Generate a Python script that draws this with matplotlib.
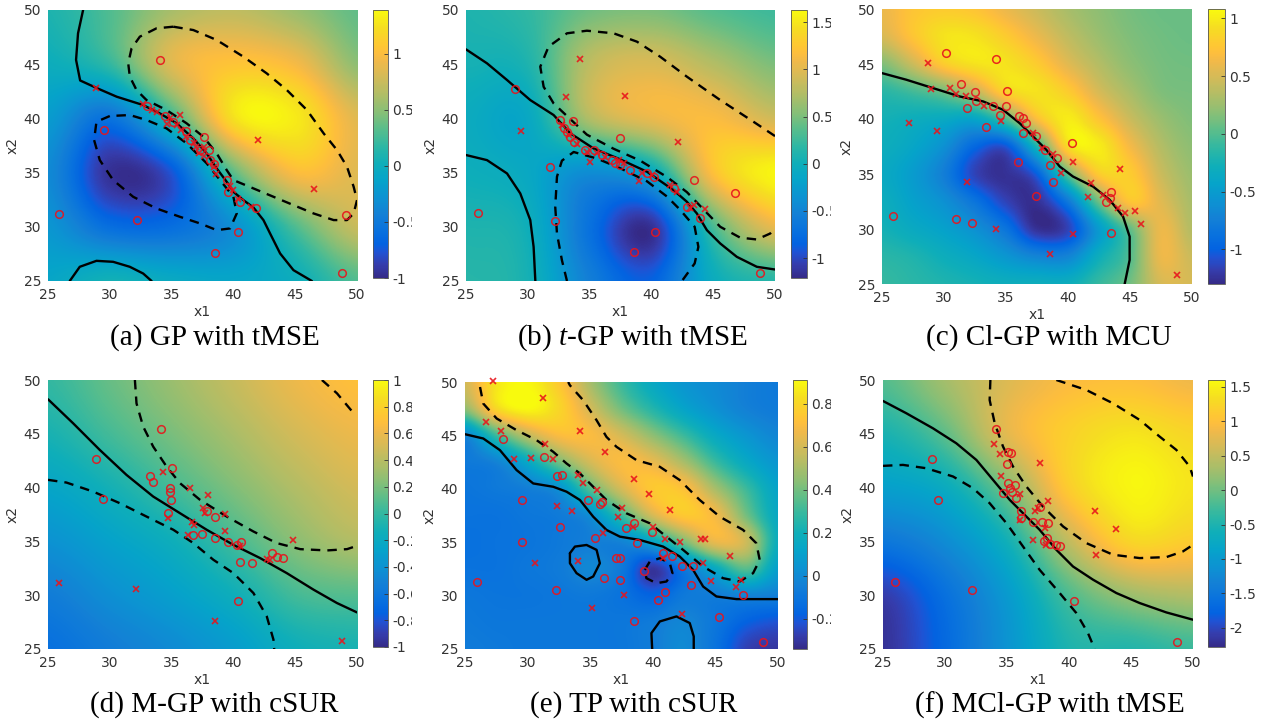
import numpy as np
import matplotlib
matplotlib.use("Agg")
import matplotlib.pyplot as plt
from matplotlib.colors import LinearSegmentedColormap
from matplotlib.transforms import Bbox, IdentityTransform, TransformedBbox

plt.rcParams["font.family"] = "DejaVu Sans"
plt.rcParams["mathtext.fontset"] = "custom"
plt.rcParams["mathtext.rm"] = "Liberation Serif"
plt.rcParams["mathtext.it"] = "Liberation Serif:italic"

W, H = 1265, 725
RED = "#e8141c"
TXT = "#333333"

# MATLAB parula, sampled from the 64-entry table
PARULA = [
    (0.2081, 0.1663, 0.5292), (0.2081, 0.2386, 0.6771), (0.1253, 0.3242, 0.8303),
    (0.0117, 0.3875, 0.8820), (0.0329, 0.4430, 0.8720), (0.0779, 0.5040, 0.8384),
    (0.0488, 0.5772, 0.8228), (0.0231, 0.6418, 0.7913), (0.0590, 0.6838, 0.7254),
    (0.1801, 0.7177, 0.6424), (0.3482, 0.7424, 0.5473), (0.5300, 0.7491, 0.4661),
    (0.6834, 0.7435, 0.4044), (0.8185, 0.7327, 0.3498), (0.9450, 0.7261, 0.2886),
    (0.9938, 0.7455, 0.2403), (0.9955, 0.7861, 0.1967), (0.9626, 0.8705, 0.1309),
    (0.9763, 0.9831, 0.0538),
]
PARULA_POS = [0, 3, 6, 8, 11, 15, 19, 23, 27, 31, 35, 39, 43, 47, 51, 53, 55, 59, 63]
parula = LinearSegmentedColormap.from_list(
    "parula", [(p / 63, c) for p, c in zip(PARULA_POS, PARULA)])

# ---------------- (a) GP with tMSE ----------------
# rows: x2 = 50 ... 25, columns: x1 = 25 ... 50
field_a = [
    [0.10, 0.30, 0.60, 0.70, 0.55, 0.35],
    [0.00, 0.20, 0.85, 1.05, 0.95, 0.50],
    [-0.20, -0.55, 0.20, 1.25, 1.30, 0.85],
    [-0.35, -0.95, -0.75, 0.35, 1.00, 0.85],
    [-0.25, -0.60, -0.60, -0.30, 0.30, 0.75],
    [-0.10, 0.05, -0.05, -0.10, 0.00, 0.30],
]
clim_a = (-1.0, 1.39)
cticks_a = [-1, -0.5, 0, 0.5, 1]
solid_a = [
    [(27.84, 50.0), (27.43, 47.85), (27.27, 45.4), (27.6, 43.5), (28.94, 42.8),
     (30.56, 42.0), (32.70, 41.23), (34.05, 40.46), (35.41, 39.54), (36.76, 38.15),
     (37.84, 36.77), (38.65, 35.38), (39.46, 34.15), (40.0, 33.23), (40.81, 32.46),
     (41.62, 31.78), (42.43, 30.62), (42.97, 29.38), (43.78, 27.54), (44.86, 26.0),
     (46.35, 25.0)],
    [(26.76, 25.0), (27.57, 26.31), (28.92, 26.86), (30.27, 26.77), (31.62, 26.31),
     (32.70, 25.69), (33.38, 25.0)],
]
dashed_a = [
    [(35.14, 48.46), (36.76, 48.15), (38.65, 47.23), (40.81, 45.69), (42.70, 44.15),
     (44.32, 42.62), (45.95, 40.77), (47.30, 38.62), (48.38, 37.08), (49.19, 35.54),
     (49.73, 33.69), (50.0, 32.46), (49.73, 31.23), (49.19, 30.62), (48.11, 30.62),
     (46.49, 31.23), (44.86, 32.0), (43.24, 32.77), (41.62, 33.54), (40.0, 34.31),
     (39.46, 35.23), (38.65, 36.77), (37.57, 38.31), (36.22, 39.54), (34.59, 40.77),
     (32.97, 41.69), (32.16, 42.62), (31.62, 43.85), (31.49, 45.08), (31.76, 46.46),
     (32.43, 47.54), (33.78, 48.31), (35.14, 48.46)],
    [(30.0, 40.22), (28.92, 39.69), (28.73, 38.0), (29.19, 36.15), (30.27, 34.31),
     (31.89, 32.77), (33.78, 31.69), (35.68, 30.92), (37.30, 30.31), (38.65, 29.69),
     (39.73, 29.85), (40.27, 31.23), (40.0, 32.77), (38.92, 34.31), (37.84, 35.85),
     (36.22, 37.69), (34.59, 39.08), (32.97, 39.85), (31.62, 40.31), (30.0, 40.22)],
]
circles_a = [(34.1, 45.4), (25.9, 31.2), (29.5, 38.9), (32.2, 30.6), (40.4, 29.5),
             (38.5, 27.6), (48.8, 25.7), (49.1, 31.1), (38.0, 37.1), (37.6, 38.3),
             (33.0, 41.1), (34.5, 40.2), (35.1, 39.7), (36.5, 38.0), (37.3, 37.1),
             (38.1, 36.2), (38.4, 35.8), (39.5, 34.3), (39.6, 33.2), (40.5, 32.3),
             (41.8, 31.7), (36.2, 38.8)]
crosses_a = [(28.9, 42.8), (42.0, 38.0), (46.5, 33.5), (35.7, 40.3), (32.7, 41.3),
             (33.4, 40.8), (33.8, 40.6), (34.9, 40.0), (34.6, 39.5), (35.4, 39.4),
             (35.8, 38.9), (36.2, 38.3), (36.8, 37.7), (37.0, 37.4), (37.2, 36.8),
             (37.6, 36.5), (38.4, 35.5), (38.6, 34.9), (39.7, 33.8), (40.0, 33.4),
             (40.4, 32.6), (41.4, 31.8), (37.6, 37.4)]

# ---------------- (b) t-GP with tMSE ----------------
field_b = [
    [0.10, 0.20, 0.45, 0.50, 0.35, 0.25],
    [0.05, 0.10, 0.80, 0.95, 0.75, 0.50],
    [-0.05, -0.10, 0.75, 1.05, 1.15, 0.90],
    [0.00, -0.10, -0.40, -0.10, 1.20, 1.60],
    [0.10, 0.00, -0.70, -1.15, 0.30, 1.05],
    [0.15, 0.05, -0.55, -0.85, -0.05, 0.15],
]
clim_b = (-1.21, 1.63)
cticks_b = [-1, -0.5, 0, 0.5, 1, 1.5]
solid_b = [
    [(25.0, 46.37), (26.70, 45.08), (28.32, 43.54), (30.20, 41.69), (32.09, 40.31),
     (33.44, 38.62), (35.32, 37.23), (37.48, 36.22), (39.64, 35.08), (41.79, 33.38),
     (42.87, 32.31), (43.68, 31.23), (44.49, 29.69), (45.57, 28.46), (46.91, 27.23),
     (48.53, 26.31), (50.0, 26.06)],
    [(25.0, 36.62), (26.70, 36.15), (28.32, 34.92), (29.39, 33.08), (30.20, 30.62),
     (30.47, 28.15), (30.61, 25.0)],
]
dashed_b = [
    [(50.0, 38.37), (48.26, 39.69), (45.57, 41.69), (42.87, 43.85), (40.71, 45.69),
     (38.83, 47.08), (36.94, 47.85), (34.78, 48.09), (33.17, 47.85), (31.68, 46.62),
     (31.01, 44.77), (31.28, 42.92), (32.09, 41.38), (33.0, 40.4), (34.78, 38.5),
     (36.94, 37.2), (39.10, 36.1), (41.25, 34.6), (42.87, 33.2), (44.22, 31.6),
     (45.57, 30.0), (47.18, 29.0), (48.53, 28.83), (49.61, 29.38), (50.0, 29.85)],
    [(33.17, 25.0), (32.76, 26.92), (32.36, 29.38), (32.22, 31.85), (32.36, 34.62),
     (32.76, 36.1), (33.71, 36.9), (35.59, 36.3), (37.48, 35.4), (39.64, 34.2),
     (41.25, 32.8), (42.3, 31.6), (43.5, 30.0), (43.8, 28.15), (43.5, 26.62),
     (42.47, 25.0)],
]
circles_b = [(25.94, 31.23), (28.99, 42.68), (31.82, 35.54), (32.22, 30.55), (37.48, 38.15),
             (38.56, 27.63), (40.31, 29.48), (43.41, 34.31), (46.78, 33.14), (48.75, 25.75),
             (33.65, 39.78), (43.95, 30.77), (32.63, 39.85), (32.90, 39.08), (33.17, 38.77),
             (33.44, 38.31), (33.71, 37.85), (34.65, 37.08), (35.32, 37.08), (35.99, 36.62),
             (36.81, 36.15), (37.08, 35.85), (37.48, 35.69), (38.29, 35.23), (39.64, 34.92),
             (40.18, 34.62), (41.79, 33.54), (42.87, 31.85)]
crosses_b = [(34.19, 45.45), (37.86, 42.09), (33.11, 42.0), (29.47, 38.86), (42.12, 37.78),
             (44.35, 31.6), (38.96, 34.22), (35.05, 35.94), (32.76, 39.38), (33.30, 38.46),
             (33.98, 37.63), (34.78, 36.92), (35.59, 36.77), (36.27, 36.46), (37.34, 36.15),
             (37.75, 35.85), (39.23, 34.92), (40.04, 34.77), (41.52, 33.85), (42.06, 33.23),
             (43.14, 31.69), (43.41, 32.0)]

# ---------------- (c) Cl-GP with MCU ----------------
# rows: x2 = 50 ... 25 step 2.5, columns: x1 = 25 ... 50 step 2.5
field_c = [
    [0.60, 0.75, 0.80, 0.75, 0.60, 0.45, 0.30, 0.20, 0.12, 0.08, 0.08],
    [0.50, 0.75, 0.95, 0.95, 0.80, 0.60, 0.40, 0.25, 0.15, 0.10, 0.08],
    [0.15, 0.45, 0.80, 0.95, 0.95, 0.80, 0.55, 0.35, 0.20, 0.12, 0.10],
    [-0.15, -0.05, 0.10, 0.40, 0.85, 0.95, 0.80, 0.50, 0.30, 0.15, 0.12],
    [-0.25, -0.30, -0.35, -0.40, 0.00, 0.70, 1.00, 0.75, 0.45, 0.25, 0.15],
    [-0.30, -0.40, -0.60, -0.95, -1.05, -0.20, 0.90, 1.00, 0.65, 0.35, 0.20],
    [-0.35, -0.50, -0.75, -1.15, -1.25, -1.00, 0.05, 0.80, 0.80, 0.45, 0.25],
    [-0.30, -0.45, -0.60, -0.85, -1.15, -1.25, -0.80, 0.10, 0.75, 0.55, 0.30],
    [-0.25, -0.35, -0.45, -0.60, -0.85, -1.25, -1.15, -0.50, 0.05, 0.60, 0.35],
    [-0.15, -0.20, -0.30, -0.40, -0.55, -0.70, -0.70, -0.30, 0.00, 0.60, 0.45],
    [-0.10, -0.15, -0.20, -0.25, -0.30, -0.30, -0.30, -0.10, 0.10, 0.50, 0.50],
]
clim_c = (-1.30, 1.08)
cticks_c = [-1, -0.5, 0, 0.5, 1]
solid_c = [
    [(25.0, 44.17), (26.96, 43.57), (29.11, 42.81), (31.26, 42.05), (33.15, 41.60),
     (34.76, 40.84), (36.10, 39.62), (37.18, 38.41), (38.25, 37.20), (39.33, 35.68),
     (40.40, 34.77), (42.02, 33.86), (43.36, 32.65), (44.44, 31.13), (44.97, 29.31),
     (44.97, 27.18), (44.57, 25.0)],
]
dashed_c = []
circles_c = [(30.13, 45.99), (34.17, 45.48), (31.40, 43.17), (32.47, 42.41), (35.11, 42.51),
             (31.85, 40.99), (32.61, 41.60), (33.41, 39.23), (34.49, 40.38), (35.0, 41.14),
             (36.02, 40.23), (36.37, 40.08), (36.64, 39.62), (36.37, 38.71), (37.45, 38.41),
             (35.97, 36.13), (37.39, 32.96), (38.82, 34.31), (38.55, 35.83), (39.09, 36.44),
             (40.35, 37.8), (30.99, 30.92), (32.26, 30.58), (43.49, 29.67), (25.89, 31.22),
             (43.09, 32.49), (43.36, 32.79), (43.49, 33.40), (38.12, 37.20), (33.95, 41.14)]
crosses_c = [(28.71, 45.09), (27.15, 39.62), (29.46, 38.93), (28.92, 42.72), (30.46, 42.81),
             (31.0, 42.26), (31.80, 42.05), (33.20, 41.14), (34.62, 39.78), (31.85, 34.31),
             (34.22, 29.98), (38.52, 27.73), (40.40, 29.52), (40.40, 36.13), (41.88, 34.16),
             (44.17, 35.44), (41.61, 32.95), (42.82, 33.10), (44.03, 31.89), (44.57, 31.43),
             (45.43, 31.64), (45.86, 30.46), (48.79, 25.82), (38.82, 36.83), (37.88, 37.35),
             (39.40, 35.07), (37.18, 38.71)]

# ---------------- (d) M-GP with cSUR ----------------
field_d = [
    [0.00, 0.15, 0.30, 0.45, 0.60, 0.70],
    [-0.10, 0.05, 0.20, 0.35, 0.50, 0.60],
    [-0.25, -0.12, 0.05, 0.22, 0.38, 0.50],
    [-0.40, -0.28, -0.15, 0.05, 0.25, 0.38],
    [-0.55, -0.42, -0.30, -0.15, 0.05, 0.10],
    [-0.65, -0.55, -0.45, -0.32, -0.15, -0.10],
]
clim_d = (-1.0, 1.0)
cticks_d = [-1, -0.8, -0.6, -0.4, -0.2, 0, 0.2, 0.4, 0.6, 0.8, 1]
solid_d = [
    [(25.0, 48.21), (27.03, 45.98), (29.19, 43.50), (31.35, 41.18), (33.51, 39.17),
     (35.68, 37.62), (37.84, 36.08), (40.0, 34.68), (42.16, 33.45), (44.32, 32.05),
     (46.49, 30.51), (48.38, 29.27), (50.0, 28.40)],
]
dashed_d = [
    [(32.03, 50.0), (32.16, 47.83), (32.70, 45.67), (33.51, 43.81), (34.59, 41.96),
     (35.68, 40.41), (37.30, 38.86), (39.46, 37.31), (41.62, 35.92), (43.51, 34.84),
     (45.41, 34.28), (47.57, 34.16), (49.19, 34.28), (50.0, 34.59)],
    [(25.0, 40.72), (26.49, 40.47), (28.65, 39.63), (30.81, 38.55), (32.97, 37.31),
     (35.14, 36.08), (36.76, 34.84), (38.38, 33.29), (40.0, 32.05), (41.62, 30.20),
     (42.70, 28.03), (43.24, 25.87), (43.30, 25.0)],
    [(47.16, 50.0), (48.38, 48.76), (49.73, 46.91)],
]
circles_d = [(34.14, 45.42), (28.92, 42.70), (29.46, 38.92), (33.24, 41.09), (33.51, 40.56),
             (35.0, 41.80), (34.73, 37.62), (34.86, 39.94), (34.92, 38.86), (36.76, 35.61),
             (37.43, 35.71), (38.51, 37.31), (38.51, 35.30), (39.59, 34.99), (40.35, 29.42),
             (40.54, 33.04), (41.49, 32.98), (43.11, 33.91), (44.05, 33.45), (43.51, 33.54),
             (40.27, 34.68), (37.84, 37.78), (34.9, 39.6), (40.6, 34.9)]
crosses_d = [(25.89, 31.13), (32.16, 30.57), (38.51, 27.57), (48.78, 25.71), (44.86, 35.09),
             (36.49, 39.94), (37.97, 39.33), (39.32, 37.56), (39.32, 36.01), (34.73, 37.16),
             (34.32, 41.49), (36.35, 35.61), (36.62, 36.78), (37.57, 38.09), (40.54, 34.53),
             (42.70, 33.35), (42.97, 33.29), (36.8, 36.5), (37.7, 37.6)]

# ---------------- (e) TP with cSUR ----------------
field_e = [
    [0.60, 0.85, 0.90, 0.75, 0.50, 0.30, 0.15, 0.05, 0.00, -0.05, -0.08],
    [0.45, 0.80, 0.90, 0.80, 0.60, 0.40, 0.25, 0.12, 0.03, -0.04, -0.07],
    [-0.02, 0.30, 0.55, 0.70, 0.70, 0.60, 0.45, 0.30, 0.15, 0.05, -0.02],
    [-0.08, -0.03, 0.15, 0.40, 0.60, 0.70, 0.65, 0.50, 0.30, 0.15, 0.05],
    [-0.10, -0.08, -0.05, 0.03, 0.35, 0.60, 0.75, 0.72, 0.50, 0.30, 0.12],
    [-0.11, -0.11, -0.09, -0.07, 0.02, 0.30, 0.60, 0.75, 0.68, 0.40, 0.15],
    [-0.12, -0.11, -0.10, -0.08, -0.05, -0.03, 0.12, 0.40, 0.65, 0.58, 0.18],
    [-0.11, -0.11, -0.09, -0.07, -0.01, -0.08, -0.30, -0.08, 0.15, 0.35, 0.10],
    [-0.09, -0.10, -0.10, -0.09, -0.08, -0.11, -0.17, -0.08, -0.06, -0.03, -0.05],
    [-0.08, -0.09, -0.09, -0.09, -0.09, -0.09, -0.07, -0.02, -0.09, -0.18, -0.22],
    [-0.07, -0.08, -0.09, -0.09, -0.09, -0.09, -0.06, 0.00, -0.11, -0.27, -0.30],
]
clim_e = (-0.34, 0.91)
cticks_e = [-0.2, 0, 0.2, 0.4, 0.6, 0.8]
solid_e = [
    [(25.0, 45.11), (26.46, 44.71), (27.79, 43.62), (29.12, 41.75), (30.45, 40.50),
     (32.05, 40.19), (33.11, 39.73), (34.18, 38.95), (35.24, 37.39), (36.30, 36.15),
     (37.37, 35.52), (38.96, 35.21), (40.82, 34.59), (42.15, 33.66), (43.22, 32.41),
     (44.02, 30.85), (45.08, 29.92), (46.68, 29.67), (50.0, 29.67)],
    [(33.38, 33.97), (33.78, 34.59), (34.71, 34.74), (35.51, 34.28), (35.77, 33.03),
     (35.24, 31.79), (34.71, 31.48), (33.91, 32.10), (33.38, 33.03), (33.38, 33.97)],
    [(39.95, 25.0), (39.89, 26.49), (40.56, 27.58), (41.89, 28.05), (42.95, 27.43),
     (43.27, 26.18), (43.27, 25.0)],
]
dashed_e = [
    [(26.20, 49.53), (26.46, 47.98), (27.53, 46.58), (29.12, 45.49), (30.72, 44.55),
     (32.05, 43.46), (33.11, 42.37), (34.18, 41.44), (35.24, 40.19), (36.30, 38.95),
     (37.90, 37.70), (39.76, 36.77), (41.09, 35.52), (42.42, 34.28), (44.02, 32.72),
     (45.61, 31.63), (46.94, 31.32), (48.01, 32.10), (48.54, 33.34), (48.27, 34.90),
     (47.21, 36.15), (45.35, 37.39), (43.75, 38.95), (42.15, 40.82), (40.56, 42.06),
     (38.70, 42.68), (37.10, 43.93), (36.30, 44.86), (35.51, 46.42), (34.44, 48.29),
     (33.38, 49.69), (33.24, 50.0)],
    [(39.36, 32.41), (39.76, 33.19), (40.56, 33.50), (41.36, 33.03), (41.57, 32.10),
     (41.09, 31.32), (40.29, 31.16), (39.49, 31.63), (39.36, 32.41)],
]
circles_e = [(25.93, 31.23), (28.06, 44.64), (31.33, 42.99), (29.52, 38.95), (29.52, 34.99),
             (32.58, 36.40), (32.26, 30.54), (32.37, 41.22), (32.71, 41.28), (34.84, 38.95),
             (35.77, 38.57), (35.98, 38.79), (36.12, 31.63), (37.10, 33.50), (37.37, 33.50),
             (37.37, 31.48), (37.82, 36.36), (38.51, 36.83), (38.70, 34.96), (38.51, 27.58),
             (39.95, 36.0), (40.43, 29.55), (41.01, 30.32), (41.54, 33.72), (42.37, 32.81),
             (43.22, 32.81), (43.09, 30.95), (45.29, 27.96), (47.21, 30.01), (48.80, 25.62),
             (35.37, 35.37), (40.82, 34.03), (39.28, 32.35)]
crosses_e = [(27.21, 50.1), (31.20, 48.51), (26.65, 46.26), (27.87, 45.39), (34.18, 45.39),
             (36.17, 43.40), (31.38, 44.15), (28.91, 42.75), (30.24, 42.84), (32.05, 42.75),
             (33.99, 41.28), (34.44, 40.57), (35.51, 39.88), (38.51, 40.91), (39.68, 39.48),
             (41.36, 38.01), (32.37, 38.42), (33.51, 37.92), (37.50, 38.23), (37.23, 37.39),
             (36.04, 35.83), (38.43, 36.46), (40.96, 35.27), (42.15, 35.06), (43.88, 35.27),
             (44.15, 35.27), (44.02, 33.03), (44.68, 31.41), (46.20, 33.75), (47.07, 31.48),
             (46.68, 30.85), (34.04, 33.25), (30.59, 33.03), (37.69, 30.01), (35.11, 28.83),
             (42.37, 28.30), (40.82, 33.50), (40.03, 36.46)]

# ---------------- (f) MCl-GP with tMSE ----------------
field_f = [
    [-0.15, 0.30, 0.70, 0.95, 1.00, 0.85],
    [-0.53, -0.10, 0.75, 1.20, 1.40, 1.25],
    [-0.92, -0.70, 0.05, 1.15, 1.55, 1.40],
    [-1.50, -1.20, -0.60, 0.50, 1.25, 1.15],
    [-2.10, -1.60, -1.00, -0.20, 0.25, 0.40],
    [-2.20, -1.70, -1.10, -0.50, -0.45, -0.30],
]
clim_f = (-2.28, 1.60)
cticks_f = [-2, -1.5, -1, -0.5, 0, 0.5, 1, 1.5]
solid_f = [
    [(25.0, 48.05), (26.88, 46.91), (29.03, 45.51), (30.91, 44.12), (32.53, 42.57),
     (33.87, 40.72), (35.22, 38.86), (36.56, 37.31), (37.63, 36.08), (38.98, 34.22),
     (40.32, 32.67), (41.94, 31.44), (43.82, 30.20), (45.70, 29.27), (47.85, 28.40),
     (50.0, 27.72)],
]
dashed_f = [
    [(33.66, 50.0), (33.60, 48.14), (34.01, 45.98), (34.68, 43.81), (35.48, 41.96),
     (36.56, 40.10), (37.90, 38.24), (39.52, 36.39), (41.40, 34.84), (43.55, 33.76),
     (45.70, 33.45), (47.85, 33.54), (49.19, 34.07), (50.0, 34.68)],
    [(25.0, 42.02), (26.61, 42.11), (28.49, 41.80), (30.65, 41.03), (32.26, 39.94),
     (33.60, 38.55), (34.95, 36.70), (36.29, 34.53), (37.63, 32.36), (39.25, 30.20),
     (40.59, 28.34), (41.53, 26.48), (42.07, 25.0)],
    [(38.98, 50.0), (41.40, 49.07), (43.55, 47.83), (45.70, 46.29), (47.31, 44.74),
     (48.66, 43.50), (49.73, 41.96), (50.0, 41.03)],
]
circles_f = [(34.14, 45.42), (28.98, 42.70), (29.46, 38.86), (32.20, 30.51), (40.40, 29.42),
             (48.74, 25.65), (25.94, 31.19), (35.03, 42.20), (35.08, 43.35), (35.35, 43.25),
             (35.08, 40.41), (35.22, 39.94), (34.68, 39.48), (35.62, 40.26), (35.75, 39.02),
             (36.16, 37.78), (36.16, 37.16), (37.10, 36.76), (37.82, 36.79), (38.31, 36.70),
             (37.96, 35.06), (38.44, 34.75), (38.98, 34.68), (39.25, 34.59), (37.63, 38.24),
             (35.4, 39.6), (38.2, 35.3)]
crosses_f = [(33.92, 44.03), (34.41, 43.10), (37.63, 42.33), (42.07, 37.84), (43.82, 36.14),
             (42.20, 33.76), (34.49, 41.09), (36.02, 39.39), (38.31, 38.80), (37.23, 37.84),
             (37.50, 38.15), (36.02, 37.0), (37.10, 35.15), (38.04, 36.23), (38.17, 34.68)]

# ---------------- layout (pixel boxes: left, top, right, bottom) ----------------
AX_BOX = {"a": (48, 10, 357, 281), "b": (466, 10, 775, 281), "c": (882, 9, 1192, 284),
          "d": (48, 380, 357, 649), "e": (465, 382, 778, 649), "f": (883, 380, 1193, 649)}
CB_BOX = {"a": (373, 10, 388, 278), "b": (791, 10, 807, 278), "c": (1208, 9, 1225, 284),
          "d": (373, 380, 388, 647), "e": (793, 380, 807, 649), "f": (1208, 380, 1225, 647)}
CAP_Y = {"a": 338, "b": 338, "c": 338, "d": 705, "e": 705, "f": 705}
CLIP_X = {"a": 412, "b": 831, "c": W, "d": 412, "e": 831, "f": W}

captions = {"a": "(a) GP with tMSE", "b": "(b) $t$-GP with tMSE", "c": "(c) Cl-GP with MCU",
            "d": "(d) M-GP with cSUR", "e": "(e) TP with cSUR", "f": "(f) MCl-GP with tMSE"}


def px_rect(box):
    l, t, r, b = box
    return [l / W, 1 - b / H, (r - l) / W, (b - t) / H]


def draw_panel(fig, key, field, clim, cticks, solids, dashes, circles, crosses):
    ax = fig.add_axes(px_rect(AX_BOX[key]))
    grid = np.array(field)
    step = 25 / (grid.shape[0] - 1)
    ext = [25 - step / 2, 50 + step / 2, 25 - step / 2, 50 + step / 2]
    im = ax.imshow(grid, extent=ext, origin="upper", cmap=parula, vmin=clim[0],
                   vmax=clim[1], interpolation="catrom", aspect="auto")

    for c in solids:
        c = np.array(c)
        ax.plot(c[:, 0], c[:, 1], color="black", lw=1.7, solid_capstyle="round")
    for c in dashes:
        c = np.array(c)
        ax.plot(c[:, 0], c[:, 1], color="black", lw=1.7, ls=(0, (4, 3)))

    ci = np.array(circles)
    ax.plot(ci[:, 0], ci[:, 1], "o", mfc="none", mec=RED, ms=5.5, mew=1.1,
            alpha=0.9, clip_on=False)
    cr = np.array(crosses)
    ax.plot(cr[:, 0], cr[:, 1], "x", color=RED, ms=5, mew=1.2, alpha=0.9, clip_on=False)

    ax.set_xlim(25, 50)
    ax.set_ylim(25, 50)
    ax.set_xticks(range(25, 51, 5))
    ax.set_yticks(range(25, 51, 5))
    ax.tick_params(length=0, labelsize=10, labelcolor=TXT, pad=5)
    for s in ax.spines.values():
        s.set_visible(False)
    ax.set_xlabel("x1", fontsize=10, color=TXT, labelpad=2)
    ax.set_ylabel("x2", fontsize=10, color=TXT, labelpad=3)

    cax = fig.add_axes(px_rect(CB_BOX[key]))
    cb = fig.colorbar(im, cax=cax)
    cb.set_ticks(cticks)
    cb.set_ticklabels([f"{v:g}" for v in cticks])
    cax.tick_params(direction="in", length=3, width=0.6, labelsize=10,
                    labelcolor=TXT, color="#333333", pad=3)
    cb.outline.set_linewidth(0.6)
    cb.outline.set_edgecolor("#555555")
    clip = TransformedBbox(Bbox.from_extents(0, 0, CLIP_X[key], H), IdentityTransform())
    for lab in cax.get_yticklabels():
        lab.set_clip_box(clip)
        lab.set_clip_on(True)

    l, t, r, b = AX_BOX[key]
    fig.text(((l + r) / 2 + 12) / W, 1 - CAP_Y[key] / H, captions[key],
             ha="center", va="center", family="Liberation Serif", size=21)


fig = plt.figure(figsize=(W / 100, H / 100), dpi=100)
draw_panel(fig, "a", field_a, clim_a, cticks_a, solid_a, dashed_a, circles_a, crosses_a)
draw_panel(fig, "b", field_b, clim_b, cticks_b, solid_b, dashed_b, circles_b, crosses_b)
draw_panel(fig, "c", field_c, clim_c, cticks_c, solid_c, dashed_c, circles_c, crosses_c)
draw_panel(fig, "d", field_d, clim_d, cticks_d, solid_d, dashed_d, circles_d, crosses_d)
draw_panel(fig, "e", field_e, clim_e, cticks_e, solid_e, dashed_e, circles_e, crosses_e)
draw_panel(fig, "f", field_f, clim_f, cticks_f, solid_f, dashed_f, circles_f, crosses_f)

fig.savefig("out.png", dpi=100)
